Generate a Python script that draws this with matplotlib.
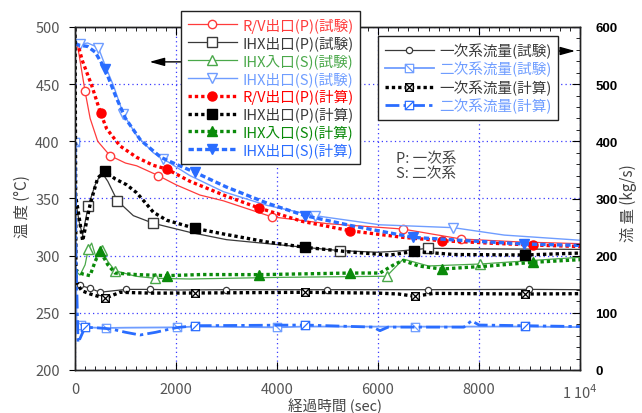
import matplotlib
matplotlib.use("Agg")
import matplotlib.pyplot as plt
from matplotlib.path import Path
from matplotlib.ticker import MultipleLocator, FixedLocator

plt.rcParams['font.family'] = ['Noto Sans CJK JP', 'DejaVu Sans']

# ---------------- data (temperature, degC) ----------------
rv_test_t = [0, 50, 198, 300, 450, 693, 1000, 1221, 1650, 2000, 2475, 2937, 3895, 5000, 6489, 7643, 8800, 10000]
rv_test_v = [486, 484, 444, 420, 400, 387.5, 381, 378.6, 370, 362, 353, 348, 334, 328, 323.3, 314.6, 312, 310.5]
rv_test_mk = [2, 5, 8, 12, 14, 15]

ihxp_test_t = [0, 80, 150, 264, 400, 528, 650, 838, 1155, 1551, 2277, 3000, 4554, 5247, 6000, 6400, 6996, 8000, 10000]
ihxp_test_v = [352, 330, 318, 343.7, 362, 373, 365, 348, 335, 328.3, 320.4, 314, 307.3, 304.4, 303, 304, 306.4, 306, 305.5]
ihxp_test_mk = [3, 7, 9, 13, 16]

ihxin_test_t = [0, 100, 200, 264, 330, 420, 528, 650, 792, 1200, 1584, 2277, 4000, 6171, 6500, 7000, 8019, 10000]
ihxin_test_v = [287, 283, 292, 306, 311, 298, 305, 295, 286.9, 282, 280.2, 279.6, 281, 282, 297, 291, 292.7, 298.6]
ihxin_test_mk = [3, 6, 8, 10, 13, 16]

ihxs_test_t = [0, 100, 250, 462, 600, 759, 957, 1221, 1551, 1749, 2277, 2937, 3800, 4752, 6039, 7491, 8500, 10000]
ihxs_test_v = [485, 485, 486, 482, 466, 449, 424, 405, 390, 384.6, 370, 356, 344, 335, 327, 324.5, 318, 313.5]
ihxs_test_mk = [1, 3, 6, 9, 13, 15]

rv_calc_t = [0, 60, 150, 330, 508, 627, 891, 1221, 1551, 1815, 2277, 3000, 3643, 4500, 5445, 6500, 7260, 8200, 9075, 10000]
rv_calc_v = [485, 484, 470, 449, 424.5, 411, 396, 386, 379, 375.8, 365, 352, 341.7, 330, 321.8, 316, 313.1, 311, 309.3, 308]
rv_calc_mk = [4, 9, 12, 14, 16, 18]

ihxp_calc_t = [0, 60, 152, 300, 450, 594, 800, 1023, 1221, 1419, 1551, 1815, 2376, 2937, 3800, 4554, 5500, 6237, 6720, 7500, 8910, 10000]
ihxp_calc_v = [355, 340, 313, 345, 368, 373.8, 367, 362, 355, 345, 338, 331, 323.9, 319, 312, 307.3, 303, 300.5, 303.8, 301, 300.6, 302.3]
ihxp_calc_mk = [5, 12, 15, 18, 20]

ihxin_calc_t = [0, 33, 150, 297, 400, 495, 650, 792, 1200, 1815, 2500, 3643, 5445, 6039, 6350, 6500, 6800, 7260, 8200, 9075, 10000]
ihxin_calc_v = [287, 286.9, 284, 282.5, 295, 304.4, 292, 284.8, 283.5, 282.5, 283.5, 283.4, 284.8, 284.8, 293, 295.7, 291, 288.3, 291, 294.2, 296.5]
ihxin_calc_mk = [5, 9, 11, 12, 17, 19]

ihxs_calc_t = [0, 100, 250, 400, 594, 800, 1000, 1300, 1700, 2000, 2376, 3000, 3800, 4554, 5500, 6700, 7800, 8890, 10000]
ihxs_calc_v = [485, 484, 483, 478, 463.3, 440, 420, 401, 386, 380, 372.9, 360, 346, 335, 326, 316, 313, 310.2, 309]
ihxs_calc_mk = [4, 10, 13, 15, 17]

# ---------------- data (flow, kg/s) ----------------
f1_test_t = [0, 20, 99, 297, 495, 700, 1010, 1485, 2000, 2990, 4984, 6996, 8996, 10000]
f1_test_v = [500, 150, 148, 143, 136, 138, 141, 141, 140, 140.5, 140.5, 140.5, 141, 140.5]
f1_test_mk = [2, 3, 4, 6, 7, 9, 10, 11, 12]

f2_test_t = [0, 30, 113, 198, 606, 1000, 2014, 2376, 4006, 4554, 6732, 8910, 10000]
f2_test_v = [398, 80, 78.7, 74.6, 73.5, 74, 74.6, 76, 74.6, 76, 75.8, 76, 75]
f2_test_mk = [0, 2, 4, 6, 8, 10]

f1_calc_t = [0, 20, 132, 300, 594, 891, 1500, 2376, 4554, 6000, 6400, 6732, 7100, 8910, 10000]
f1_calc_v = [620, 155, 138.7, 133, 125.4, 135.9, 134.5, 134.7, 135.9, 134.5, 133, 128.9, 134, 132.9, 133.5]
f1_calc_mk = [4, 7, 8, 11, 13]

f2_calc_t = [0, 20, 60, 99, 198, 400, 700, 1000, 1287, 1600, 2000, 2376, 4554, 5900, 6039, 6200, 7700, 7853, 8000, 8910, 10000]
f2_calc_v = [400, 200, 48, 55, 74.6, 74, 72, 66, 61.2, 66, 74, 77.5, 78.7, 75, 68.8, 75, 75, 86.2, 78.7, 77.5, 76]
f2_calc_mk = [4, 11, 12, 19]

x_ticks = [0, 2000, 4000, 6000, 8000, 10000]
x_ticklabels = ['0', '2000', '4000', '6000', '8000', '1 10$^4$']

# ---------------- markers ----------------
def box_marker(kind):
    verts = [(-1, -1), (1, -1), (1, 1), (-1, 1), (-1, -1)]
    codes = [Path.MOVETO, Path.LINETO, Path.LINETO, Path.LINETO, Path.CLOSEPOLY]
    if kind in ('x', 'b'):
        verts += [(-1, 1), (1, -1)]
        codes += [Path.MOVETO, Path.LINETO]
    if kind in ('x', 's'):
        verts += [(-1, -1), (1, 1)]
        codes += [Path.MOVETO, Path.LINETO]
    return Path(verts, codes)

M_X = box_marker('x')
M_B = box_marker('b')
M_S = box_marker('s')

# ---------------- colours ----------------
C_RED_T = '#ff3b3b'
C_RED_C = '#ff0000'
C_BLK_T = '#3a3a3a'
C_BLK_C = '#000000'
C_GRN_T = '#4aa84a'
C_GRN_C = '#0a8a0a'
C_LB_T = '#6f9dff'
C_B_C = '#2a6dff'

DOT = (0, (1.0, 0.9))

fig = plt.figure(figsize=(6.42, 4.14), dpi=100)
ax = fig.add_axes([75/642, 1-371/414, 505/642, 343/414])
ax2 = ax.twinx()

# temperature series
h = []
h += ax.plot(rv_test_t, rv_test_v, color=C_RED_T, lw=0.9, marker='o', ms=6, mfc='white', mec=C_RED_T, mew=1,
             markevery=rv_test_mk, label='R/V出口(P)(試験)')
h += ax.plot(ihxp_test_t, ihxp_test_v, color=C_BLK_T, lw=0.9, marker='s', ms=7.5, mfc='white', mec=C_BLK_T, mew=1,
             markevery=ihxp_test_mk, label='IHX出口(P)(試験)')
h += ax.plot(ihxin_test_t, ihxin_test_v, color=C_GRN_T, lw=0.9, marker='^', ms=7.5, mfc='white', mec=C_GRN_T, mew=1,
             markevery=ihxin_test_mk, label='IHX入口(S)(試験)')
h += ax.plot(ihxs_test_t, ihxs_test_v, color=C_LB_T, lw=1.0, marker='v', ms=7.5, mfc='white', mec=C_LB_T, mew=1,
             markevery=ihxs_test_mk, label='IHX出口(S)(試験)')
h += ax.plot(rv_calc_t, rv_calc_v, color=C_RED_C, lw=2.4, ls=DOT, marker='o', ms=6.5, mfc=C_RED_C, mec=C_RED_C,
             markevery=rv_calc_mk, label='R/V出口(P)(計算)')
h += ax.plot(ihxp_calc_t, ihxp_calc_v, color=C_BLK_C, lw=2.4, ls=DOT, marker='s', ms=7.5, mfc=C_BLK_C, mec=C_BLK_C,
             markevery=ihxp_calc_mk, label='IHX出口(P)(計算)')
h += ax.plot(ihxin_calc_t, ihxin_calc_v, color=C_GRN_C, lw=2.4, ls=DOT, marker='^', ms=7.5, mfc=C_GRN_C, mec=C_GRN_C,
             markevery=ihxin_calc_mk, label='IHX入口(S)(計算)')
h += ax.plot(ihxs_calc_t, ihxs_calc_v, color=C_B_C, lw=2.4, ls=(0, (1.6, 0.9)), marker='v', ms=7.5, mfc=C_B_C, mec=C_B_C,
             markevery=ihxs_calc_mk, label='IHX出口(S)(計算)')

# flow series
g = []
g += ax2.plot(f1_test_t, f1_test_v, color=C_BLK_T, lw=0.9, marker='o', ms=4.5, mfc='white', mec=C_BLK_T, mew=0.9,
              markevery=f1_test_mk, label='一次系流量(試験)')
g += ax2.plot(f2_test_t, f2_test_v, color=C_LB_T, lw=1.3, marker=M_B, ms=6, mfc='white', mec=C_LB_T, mew=0.9,
              markevery=f2_test_mk, label='二次系流量(試験)')
g += ax2.plot(f1_calc_t, f1_calc_v, color=C_BLK_C, lw=2.4, ls=DOT, marker=M_X, ms=5.5, mfc='white', mec=C_BLK_C, mew=0.9,
              markevery=f1_calc_mk, label='一次系流量(計算)')
g += ax2.plot(f2_calc_t, f2_calc_v, color=C_B_C, lw=2.0, ls=(0, (5, 1.5, 1.2, 1.5)), marker=M_S, ms=6, mfc='white',
              mec=C_B_C, mew=0.9, markevery=f2_calc_mk, label='二次系流量(計算)')

# axes setup
ax.set_xlim(0, 10000)
ax.set_ylim(200, 500)
ax2.set_ylim(0, 600)

ax.xaxis.set_major_locator(FixedLocator(x_ticks))
ax.set_xticklabels(x_ticklabels)
ax.xaxis.set_minor_locator(MultipleLocator(200))
ax.yaxis.set_major_locator(MultipleLocator(50))
ax2.yaxis.set_major_locator(MultipleLocator(100))
ax2.yaxis.set_minor_locator(MultipleLocator(20))

ax.grid(True, which='major', color='#3a3aff', ls=(0, (1, 2.5)), lw=0.9)

ax.tick_params(axis='x', which='major', direction='in', length=6, top=True, labelsize=10.5,
               labelcolor='#555555', pad=9)
ax.tick_params(axis='x', which='minor', direction='in', length=3, top=True)
ax.tick_params(axis='y', which='major', direction='out', length=4, labelsize=10.5, labelcolor='#555555', pad=7)
ax2.tick_params(axis='y', which='major', direction='in', length=6, labelsize=9.5, pad=11)
ax2.tick_params(axis='y', which='minor', direction='in', length=3)
for lab in ax2.get_yticklabels():
    lab.set_fontfamily(['Liberation Sans', 'DejaVu Sans'])
    lab.set_fontweight('bold')

for sp in list(ax.spines.values()) + list(ax2.spines.values()):
    sp.set_linewidth(1.0)
    sp.set_color('#222222')

ax.set_ylabel('温 度 (°C)', fontsize=11, color='#444444')
ax.yaxis.set_label_coords((31-75)/505, 0.48)
ax2.set_ylabel('流 量 (kg/s)', fontsize=11, color='#444444', rotation=90)
ax2.yaxis.set_label_coords((620-75)/505, 0.49)
ax.set_xlabel('経過時間 (sec)', fontsize=10.5, color='#444444')
ax.xaxis.set_label_coords((335-75)/505, (371-399)/343)

# arrows
ax.annotate('', xy=(1420, 469.5), xytext=(2300, 469.5),
            arrowprops=dict(arrowstyle='-|>,head_length=0.9,head_width=0.25', color='black', lw=1.0))
ax2.annotate('', xy=(9960, 558), xytext=(9500, 558),
             arrowprops=dict(arrowstyle='-|>,head_length=0.9,head_width=0.25', color='black', lw=1.0),
             annotation_clip=False)

fig.text(396/642, 1-152/414, 'P: 一次系\nS: 二次系', fontsize=10.5, color='#444444', va='top', ha='left',
         linespacing=1.05)

# legends
leg1 = ax2.legend(handles=h, loc='upper left', bbox_to_anchor=(181/642, 1-12/414), bbox_transform=fig.transFigure,
                  fontsize=10.5, frameon=True, fancybox=False, framealpha=1, edgecolor='#222222',
                  borderaxespad=0, handlelength=3.4, handletextpad=0.35, labelspacing=0.2, borderpad=0.45,
                  labelcolor=[C_RED_T, C_BLK_T, C_GRN_T, C_LB_T, C_RED_C, C_BLK_T, C_GRN_C, C_B_C])
leg1.get_frame().set_linewidth(1.0)
ax2.add_artist(leg1)
leg2 = ax2.legend(handles=g, loc='upper left', bbox_to_anchor=(378/642, 1-37/414), bbox_transform=fig.transFigure,
                  fontsize=10.5, frameon=True, fancybox=False, framealpha=1, edgecolor='#222222',
                  borderaxespad=0, handlelength=3.4, handletextpad=0.35, labelspacing=0.2, borderpad=0.45,
                  labelcolor=[C_BLK_T, C_LB_T, C_BLK_T, C_LB_T])
leg2.get_frame().set_linewidth(1.0)
leg1.set_zorder(10)
leg2.set_zorder(10)

fig.savefig('out.png', dpi=100)
